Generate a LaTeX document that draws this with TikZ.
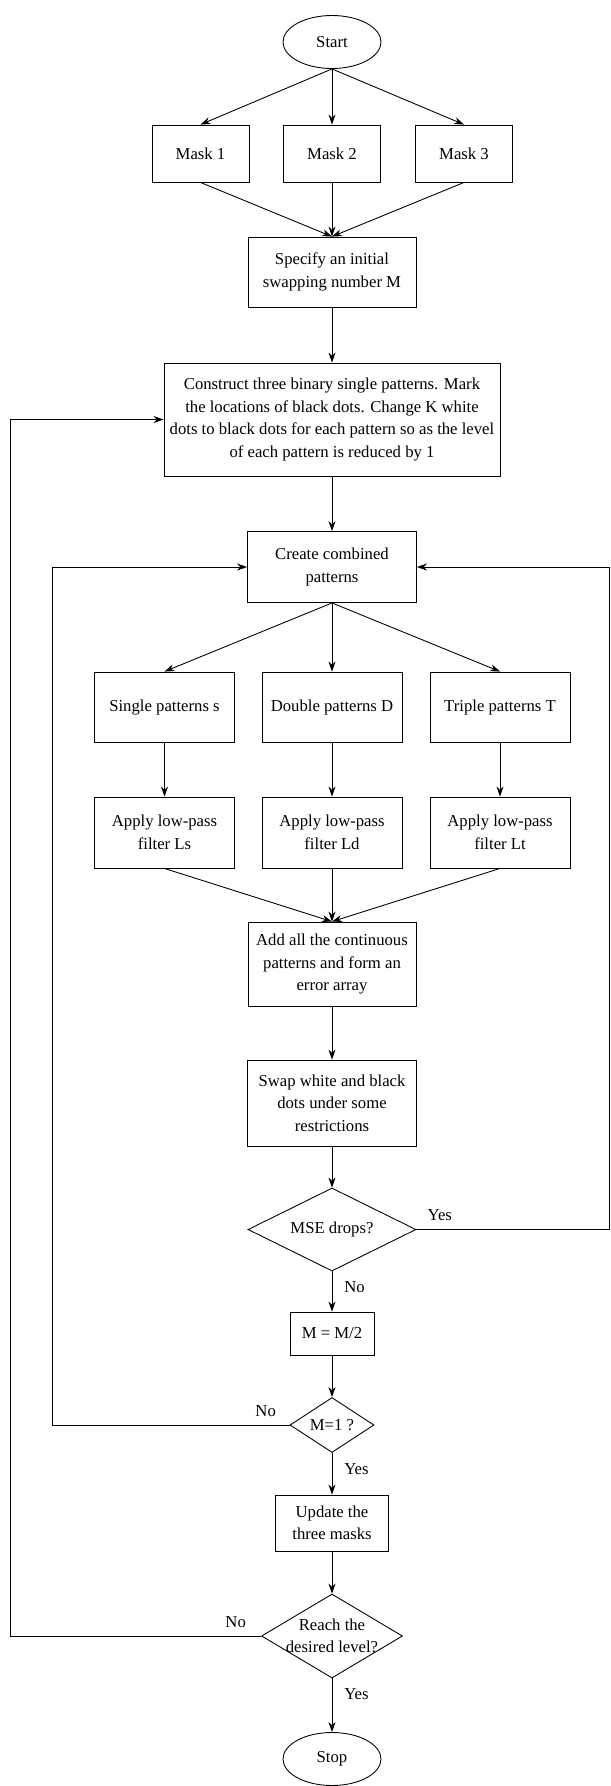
\documentclass[tikz,border=0pt]{standalone}
\usepackage{fontspec}
\setmainfont{Liberation Serif}
\usetikzlibrary{arrows.meta,positioning,shapes.geometric}

\begin{document}
\begin{tikzpicture}[
  font=\fontsize{9.5}{12.8}\selectfont,
  box/.style={draw, line width=0.5pt, align=center, inner sep=2pt},
  term/.style={draw, ellipse, line width=0.5pt, minimum width=1.96cm, minimum height=1.06cm, inner sep=0pt},
  test/.style={draw, diamond, line width=0.5pt, inner sep=0pt},
  flow/.style={-{Stealth[length=2mm,width=1.4mm]}, line width=0.5pt},
]
\useasboundingbox (0,0) rectangle (12.2,-35.72);
% masks
\node[term] (start) at (6.64,-0.84) {Start};
\foreach \i/\x in {1/4.01,2/6.64,3/9.28}{
  \node[box, minimum width=1.94cm, minimum height=1.14cm] (mask\i) at (\x,-3.07) {Mask \i};
}
\node[box, minimum width=3.36cm, minimum height=1.40cm] (spec) at (6.64,-5.44)
  {Specify an initial\\swapping number M};
\node[box, minimum width=6.72cm, minimum height=2.26cm] (cons) at (6.64,-8.39)
  {Construct three binary single patterns. Mark\\the locations of black dots. Change K white\\
   dots to black dots for each pattern so as the level\\of each pattern is reduced by 1};
% combined patterns
\node[box, minimum width=3.38cm, minimum height=1.42cm] (comb) at (6.64,-11.34)
  {Create combined\\patterns};
\node[box, minimum width=2.80cm, minimum height=1.40cm] (single) at (3.29,-14.14) {Single patterns s};
\node[box, minimum width=2.80cm, minimum height=1.40cm] (double) at (6.64,-14.14) {Double patterns D};
\node[box, minimum width=2.80cm, minimum height=1.40cm] (triple) at (10.0,-14.14) {Triple patterns T};
\node[box, minimum width=2.80cm, minimum height=1.42cm] (fs) at (3.29,-16.65) {Apply low-pass\\filter Ls};
\node[box, minimum width=2.80cm, minimum height=1.42cm] (fd) at (6.64,-16.65) {Apply low-pass\\filter Ld};
\node[box, minimum width=2.80cm, minimum height=1.42cm] (ft) at (10.0,-16.65) {Apply low-pass\\filter Lt};
\node[box, minimum width=3.36cm, minimum height=1.68cm] (add) at (6.64,-19.28)
  {Add all the continuous\\patterns and form an\\error array};
\node[box, minimum width=3.38cm, minimum height=1.72cm] (swap) at (6.64,-22.06)
  {Swap white and black\\dots under some\\restrictions};
% tests
\node[test, minimum width=3.36cm, minimum height=1.66cm, label=center:{MSE drops?}] (mse) at (6.64,-24.59) {};
\node[box, minimum width=1.68cm, minimum height=0.86cm] (half) at (6.64,-26.67) {M = M/2};
\node[test, minimum width=1.68cm, minimum height=1.10cm, label=center:{M=1 ?}] (mone) at (6.64,-28.50) {};
\node[box, minimum width=2.26cm, minimum height=1.12cm] (update) at (6.64,-30.46) {Update the\\three masks};
\node[test, minimum width=2.82cm, minimum height=1.68cm,
  label={[align=center]center:Reach the\\desired level?}] (reach) at (6.64,-32.72) {};
\node[term] (stop) at (6.64,-35.18) {Stop};
% main flow
\foreach \i in {1,2,3}{
  \draw[flow] (start.south) -- (mask\i.north);
  \draw[flow] (mask\i.south) -- (spec.north);
}
\draw[flow] (spec) -- (cons);
\draw[flow] (cons) -- (comb);
\foreach \p/\f in {single/fs,double/fd,triple/ft}{
  \draw[flow] (comb.south) -- (\p.north);
  \draw[flow] (\p) -- (\f);
  \draw[flow] (\f.south) -- (add.north);
}
\draw[flow] (add) -- (swap);
\draw[flow] (swap) -- (mse);
\draw[flow] (mse) -- node[right=1.2mm, pos=0.4] (no1) {No} (half);
\draw[flow] (half) -- (mone);
\draw[flow] (mone) -- node[right=1.2mm, pos=0.4] (yes2) {Yes} (update);
\draw[flow] (update) -- (reach);
\draw[flow] (reach) -- node[right=1.2mm, pos=0.3] (yes3) {Yes} (stop);
% loops
\coordinate (outer) at (0.20,0);
\coordinate (inner) at (1.05,0);
\coordinate (right) at (12.18,0);
\draw[flow] (mse.east) -- (mse.east -| right) |- (comb.east);
\node[anchor=south west] (yes1) at ([xshift=1mm,yshift=0.5mm]mse.east) {Yes};
\draw[flow] (mone.west) -- (mone.west -| inner) |- (comb.west);
\node[anchor=south east] (no2) at ([xshift=-1.5mm,yshift=0.5mm]mone.west) {No};
\draw[flow] (reach.west) -- (reach.west -| outer) |- (cons.west);
\node[anchor=south east] (no3) at ([xshift=-1.8mm,yshift=0.5mm]reach.west) {No};
\end{tikzpicture}
\end{document}
